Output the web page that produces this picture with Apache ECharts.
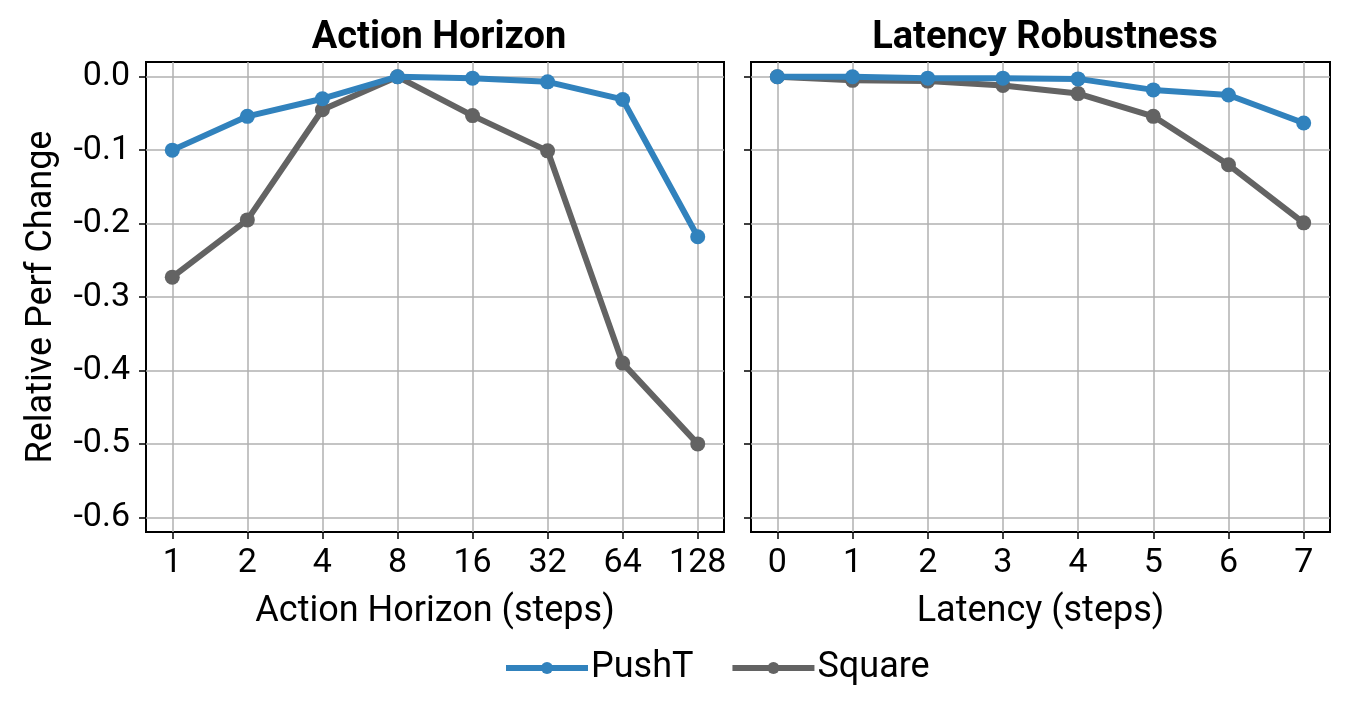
<!DOCTYPE html>
<html lang="en">
<head>
    <meta charset="UTF-8">
    <title>Action Horizon / Latency Robustness</title>
    <script src="https://cdn.jsdelivr.net/npm/echarts@6/dist/echarts.min.js"></script>
    <style>
        html, body { margin: 0; padding: 0; background: #fff; }
        #main { width: 1347px; height: 702px; }
    </style>
</head>
<body>
<div id="main"></div>
<script>
    // data
    var horizonLabels = ['1', '2', '4', '8', '16', '32', '64', '128'];
    var latencyLabels = ['0', '1', '2', '3', '4', '5', '6', '7'];
    var horizonPushT = [-0.100, -0.054, -0.030, 0.000, -0.002, -0.007, -0.031, -0.218];
    var horizonSquare = [-0.273, -0.195, -0.045, 0.000, -0.053, -0.101, -0.390, -0.500];
    var latencyPushT = [0.000, 0.000, -0.002, -0.002, -0.003, -0.018, -0.025, -0.063];
    var latencySquare = [0.000, -0.005, -0.006, -0.012, -0.023, -0.054, -0.120, -0.199];
    var yTicks = [0, -0.1, -0.2, -0.3, -0.4, -0.5, -0.6];

    var FONT = 'Roboto';
    var BLUE = '#3182bd';
    var GRAY = '#636363';

    function pairs(vals) {
        return vals.map(function (v, i) { return [i, v]; });
    }

    function xAxisFor(idx, labels, name) {
        return {
            type: 'value',
            gridIndex: idx,
            min: -0.35,
            max: labels.length - 1 + 0.35,
            name: name,
            nameLocation: 'middle',
            nameGap: 62,
            nameTextStyle: {fontFamily: FONT, fontSize: 36, color: '#000'},
            axisLine: {show: false, onZero: false},
            axisTick: {
                show: true, inside: false, length: 7,
                customValues: labels.map(function (l, i) { return i; }),
                lineStyle: {color: '#000', width: 1.5}
            },
            axisLabel: {
                customValues: labels.map(function (l, i) { return i; }),
                formatter: function (v) { return labels[Math.round(v)]; },
                fontFamily: FONT, fontSize: 34, color: '#000', margin: 14
            },
            splitLine: {show: true, lineStyle: {color: '#b0b0b0', width: 1.5}}
        };
    }

    function yAxisFor(idx, showLabels) {
        return {
            type: 'value',
            gridIndex: idx,
            min: -0.62,
            max: 0.02,
            name: showLabels ? 'Relative Perf Change' : '',
            nameLocation: 'middle',
            nameGap: 86,
            nameTextStyle: {fontFamily: FONT, fontSize: 36, color: '#000'},
            axisLine: {show: false, onZero: false},
            axisTick: {
                show: true, inside: false, length: 7,
                customValues: yTicks,
                lineStyle: {color: '#000', width: 1.5}
            },
            axisLabel: {
                show: showLabels,
                customValues: yTicks,
                formatter: function (v) { return v.toFixed(1); },
                fontFamily: FONT, fontSize: 34, color: '#000', margin: 16
            },
            splitLine: {show: true, lineStyle: {color: '#b0b0b0', width: 1.5}}
        };
    }

    function lineSeries(name, color, idx, vals) {
        return {
            name: name,
            type: 'line',
            xAxisIndex: idx,
            yAxisIndex: idx,
            data: pairs(vals),
            symbol: 'circle',
            symbolSize: 15,
            lineStyle: {color: color, width: 6},
            itemStyle: {color: color},
            emphasis: {disabled: true},
            animation: false,
            z: name === 'PushT' ? 3 : 2
        };
    }

    var myChart = echarts.init(document.getElementById('main'));
    var option = {
        backgroundColor: '#fff',
        animation: false,
        title: [
            {
                text: 'Action Horizon', left: 434, top: 14, textAlign: 'center',
                textStyle: {fontFamily: FONT, fontSize: 38, fontWeight: 'bold', color: '#000'}
            },
            {
                text: 'Latency Robustness', left: 1040, top: 14, textAlign: 'center',
                textStyle: {fontFamily: FONT, fontSize: 38, fontWeight: 'bold', color: '#000'}
            }
        ],
        legend: {
            data: ['PushT', 'Square'],
            top: 645,
            left: 498,
            itemWidth: 82,
            itemHeight: 15,
            itemGap: 36,
            lineStyle: {width: 6},
            textStyle: {fontFamily: FONT, fontSize: 36, color: '#000', padding: [0, 0, 0, -2]}
        },
        grid: [
            {left: 146, top: 62, width: 578, height: 470, show: true, borderColor: '#000', borderWidth: 2, backgroundColor: 'transparent'},
            {left: 751, top: 62, width: 579, height: 470, show: true, borderColor: '#000', borderWidth: 2, backgroundColor: 'transparent'}
        ],
        xAxis: [
            xAxisFor(0, horizonLabels, 'Action Horizon (steps)'),
            xAxisFor(1, latencyLabels, 'Latency (steps)')
        ],
        yAxis: [
            yAxisFor(0, true),
            yAxisFor(1, false)
        ],
        series: [
            lineSeries('PushT', BLUE, 0, horizonPushT),
            lineSeries('Square', GRAY, 0, horizonSquare),
            lineSeries('PushT', BLUE, 1, latencyPushT),
            lineSeries('Square', GRAY, 1, latencySquare)
        ]
    };
    myChart.setOption(option);
</script>
</body>
</html>
